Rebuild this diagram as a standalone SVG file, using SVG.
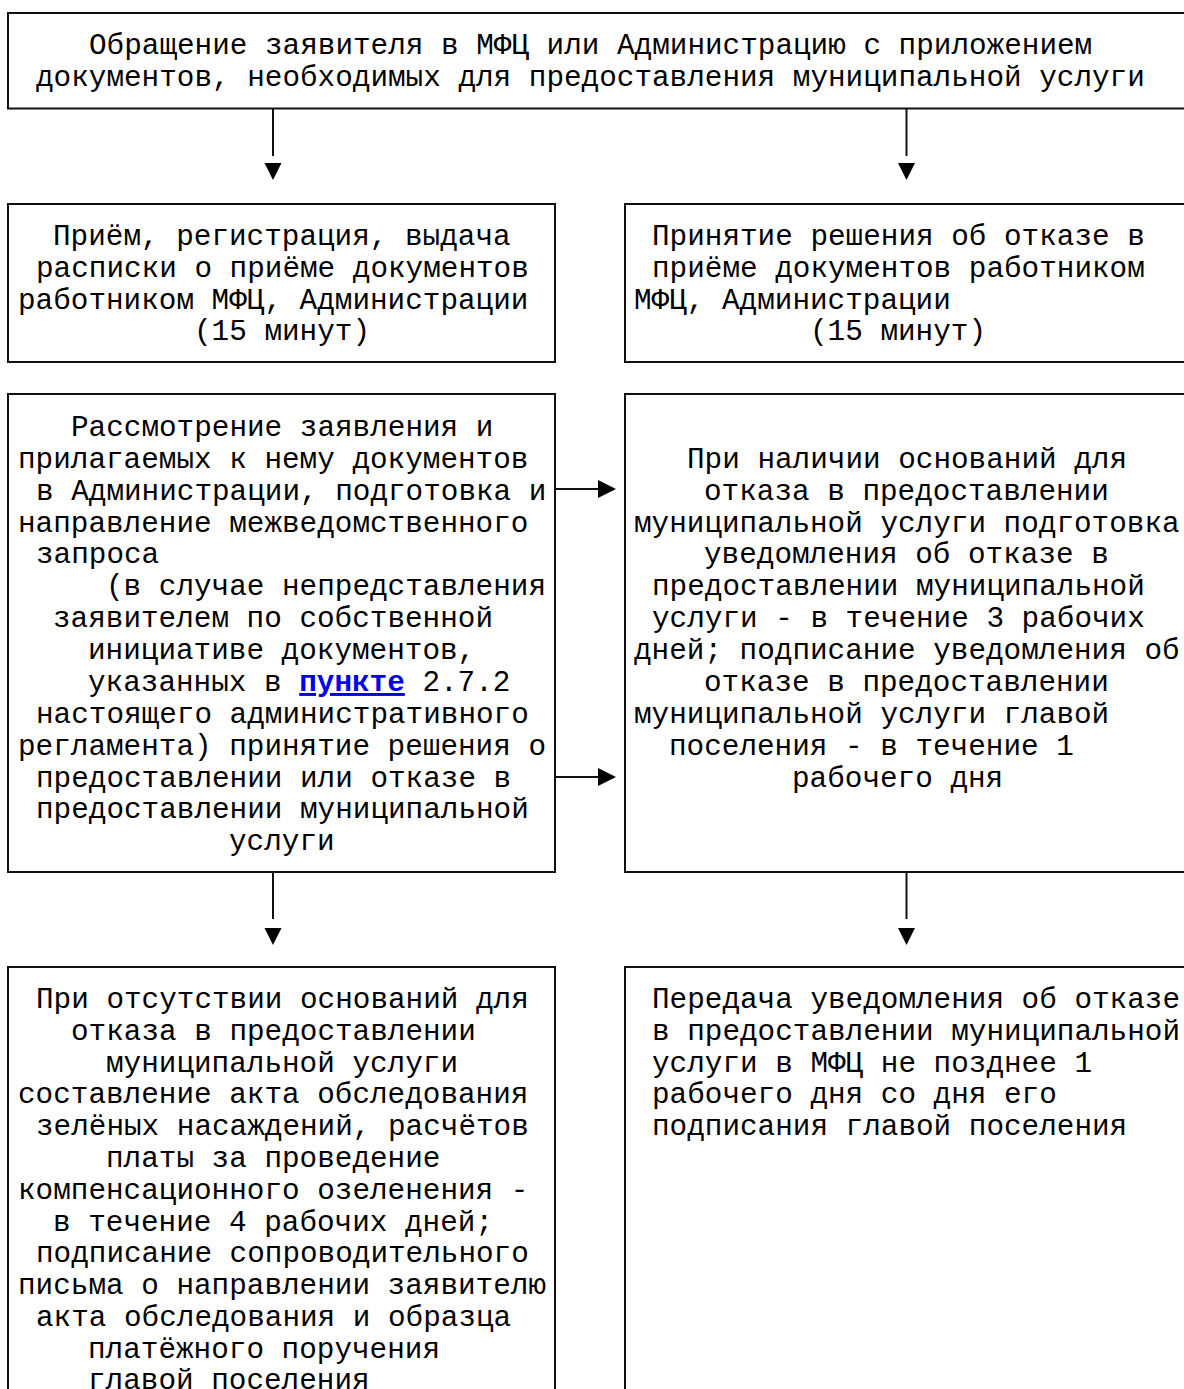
<svg xmlns="http://www.w3.org/2000/svg" width="1184" height="1389" viewBox="0 0 1184 1389">
<defs>
<style>
.box{fill:none;stroke:#111;stroke-width:2}
.t{font-family:"Liberation Mono","Courier New",monospace;font-size:29.33px;fill:#000;white-space:pre}
.ln{stroke:#111;stroke-width:2;fill:none}
.ah{fill:#000}
.lnk{fill:#0000EE;font-weight:bold;text-decoration:underline}
</style>
</defs>
<rect width="1184" height="1389" fill="#fff"/>
<g id="n1">
<rect class="box" x="8" y="13" width="1200" height="95.5"/>
<text class="t" x="89" y="54">Обращение заявителя в МФЦ или Администрацию с приложением</text>
<text class="t" x="36" y="86">документов, необходимых для предоставления муниципальной услуги</text>
</g>
<g id="n2">
<rect class="box" x="8" y="204" width="547" height="158"/>
<text class="t" x="53" y="245">Приём, регистрация, выдача</text>
<text class="t" x="36" y="277">расписки о приёме документов</text>
<text class="t" x="18" y="309">работником МФЦ, Администрации</text>
<text class="t" x="194" y="340">(15 минут)</text>
</g>
<g id="n3">
<rect class="box" x="625" y="204" width="600" height="158"/>
<text class="t" x="652" y="245">Принятие решения об отказе в</text>
<text class="t" x="652" y="277">приёме документов работником</text>
<text class="t" x="634" y="309">МФЦ, Администрации</text>
<text class="t" x="810" y="340">(15 минут)</text>
</g>
<g id="n4">
<rect class="box" x="8" y="394" width="547" height="478"/>
<text class="t" x="71" y="436">Рассмотрение заявления и</text>
<text class="t" x="18" y="468">прилагаемых к нему документов</text>
<text class="t" x="36" y="500">в Администрации, подготовка и</text>
<text class="t" x="18" y="532">направление межведомственного</text>
<text class="t" x="36" y="563">запроса</text>
<text class="t" x="106" y="595">(в случае непредставления</text>
<text class="t" x="53" y="627">заявителем по собственной</text>
<text class="t" x="88" y="659">инициативе документов,</text>
<text class="t" x="88" y="691">указанных в <tspan class="lnk">пункте</tspan> 2.7.2</text>
<text class="t" x="36" y="723">настоящего административного</text>
<text class="t" x="18" y="755">регламента) принятие решения о</text>
<text class="t" x="36" y="787">предоставлении или отказе в</text>
<text class="t" x="36" y="818">предоставлении муниципальной</text>
<text class="t" x="229" y="850">услуги</text>
</g>
<g id="n5">
<rect class="box" x="625" y="394" width="600" height="478"/>
<text class="t" x="687" y="468">При наличии оснований для</text>
<text class="t" x="704" y="500">отказа в предоставлении</text>
<text class="t" x="634" y="532">муниципальной услуги подготовка</text>
<text class="t" x="704" y="563">уведомления об отказе в</text>
<text class="t" x="652" y="595">предоставлении муниципальной</text>
<text class="t" x="652" y="627">услуги - в течение 3 рабочих</text>
<text class="t" x="634" y="659">дней; подписание уведомления об</text>
<text class="t" x="704" y="691">отказе в предоставлении</text>
<text class="t" x="634" y="723">муниципальной услуги главой</text>
<text class="t" x="669" y="755">поселения - в течение 1</text>
<text class="t" x="792" y="787">рабочего дня</text>
</g>
<g id="n6">
<rect class="box" x="8" y="967" width="547" height="500"/>
<text class="t" x="36" y="1008">При отсутствии оснований для</text>
<text class="t" x="71" y="1040">отказа в предоставлении</text>
<text class="t" x="106" y="1072">муниципальной услуги</text>
<text class="t" x="18" y="1103">составление акта обследования</text>
<text class="t" x="36" y="1135">зелёных насаждений, расчётов</text>
<text class="t" x="106" y="1167">платы за проведение</text>
<text class="t" x="18" y="1199">компенсационного озеленения -</text>
<text class="t" x="53" y="1231">в течение 4 рабочих дней;</text>
<text class="t" x="36" y="1262">подписание сопроводительного</text>
<text class="t" x="18" y="1294">письма о направлении заявителю</text>
<text class="t" x="36" y="1326">акта обследования и образца</text>
<text class="t" x="88" y="1358">платёжного поручения</text>
<text class="t" x="88" y="1389">главой поселения</text>
</g>
<g id="n7">
<rect class="box" x="625" y="967" width="600" height="500"/>
<text class="t" x="652" y="1008">Передача уведомления об отказе</text>
<text class="t" x="652" y="1040">в предоставлении муниципальной</text>
<text class="t" x="652" y="1072">услуги в МФЦ не позднее 1</text>
<text class="t" x="652" y="1103">рабочего дня со дня его</text>
<text class="t" x="652" y="1135">подписания главой поселения</text>
</g>
<g id="connectors">
<line class="ln" x1="273" y1="108.5" x2="273" y2="156"/>
<polygon class="ah" points="264.5,163 281.5,163 273,180"/>
<line class="ln" x1="906.5" y1="108.5" x2="906.5" y2="156"/>
<polygon class="ah" points="898,163 915,163 906.5,180"/>
<line class="ln" x1="555" y1="489" x2="599" y2="489"/>
<polygon class="ah" points="598,480 598,498 616,489"/>
<line class="ln" x1="555" y1="777" x2="599" y2="777"/>
<polygon class="ah" points="598,768 598,786 616,777"/>
<line class="ln" x1="273" y1="872" x2="273" y2="919"/>
<polygon class="ah" points="264.5,928 281.5,928 273,945"/>
<line class="ln" x1="906.5" y1="872" x2="906.5" y2="919"/>
<polygon class="ah" points="898,928 915,928 906.5,945"/>
</g>
</svg>
